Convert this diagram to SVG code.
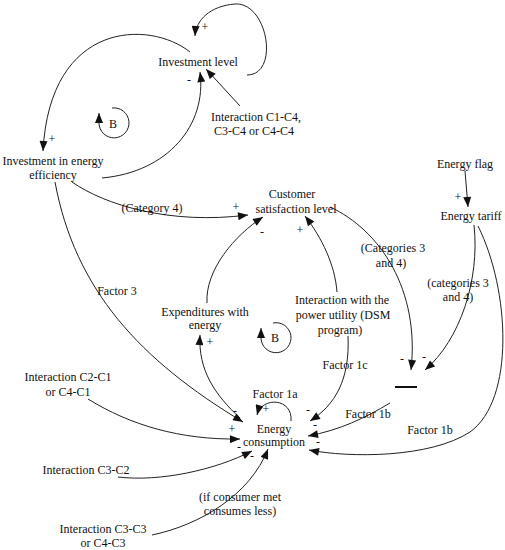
<svg xmlns="http://www.w3.org/2000/svg" width="505" height="550" viewBox="0 0 505 550" font-family="'Liberation Serif', 'DejaVu Serif', 'Times New Roman', serif">
<style>
text{font-family:'Liberation Serif','DejaVu Serif','Times New Roman',serif;font-size:12px;fill:#111;text-anchor:middle}
.c{fill:none;stroke:#222;stroke-width:1;marker-end:url(#ah)}
</style>
<defs>
<marker id="ah" viewBox="0 0 10 8" refX="10" refY="4" markerWidth="11" markerHeight="8" orient="auto" markerUnits="userSpaceOnUse"><path d="M0,0 L10,4 L0,8 z" fill="#111"/></marker>
</defs>
<rect width="505" height="550" fill="#fff"/>
<g id="connectors">
<path class="c" d="M247,75 C280,75 268,2 235,4 C210,6 196,20 195,36"/>
<path class="c" d="M190,52 C150,20 50,20 43,151"/>
<path class="c" d="M102,178 C168,172 207,125 200,72"/>
<path class="c" d="M240,106 L206,69"/>
<path class="c" d="M72,182 C105,205 170,225 248,215"/>
<path class="c" d="M207,303 C205,270 235,235 263,217"/>
<path class="c" d="M337,292 C335,265 322,238 305,216"/>
<path class="c" d="M330,207 C380,230 420,290 411,370"/>
<path class="c" d="M465,171 L468,207"/>
<path class="c" d="M474,225 C480,280 460,340 425,370"/>
<path class="c" d="M478,226 C510,290 515,400 470,432 C430,458 350,458 309,450"/>
<path class="c" d="M390,403 C365,418 340,430 308,436"/>
<path class="c" d="M348,336 C350,380 335,405 310,421"/>
<path class="c" d="M240,418 C215,395 198,370 200,335"/>
<path class="c" d="M55,182 C75,290 140,360 243,422"/>
<path class="c" d="M291,421 C293,398 262,396 257,415"/>
<path class="c" d="M88,399 C130,425 180,440 240,439"/>
<path class="c" d="M118,477 C160,482 215,470 252,451"/>
<path class="c" d="M152,535 C200,525 250,495 268,449"/>
<g id="polarities">
<text x="205" y="31">+</text>
<text x="189" y="84">-</text>
<text x="52" y="143">+</text>
<text x="236" y="211">+</text>
<text x="262" y="236">-</text>
<text x="300" y="234">+</text>
<text x="458" y="201">+</text>
<text x="402" y="363">-</text>
<text x="424" y="361">-</text>
<text x="210" y="346">+</text>
<text x="266" y="413">+</text>
<text x="235" y="415">-</text>
<text x="232" y="433">+</text>
<text x="239" y="451">-</text>
<text x="252" y="460">-</text>
<text x="308" y="414">-</text>
<text x="315" y="429">-</text>
<text x="318" y="446">-</text>
</g>
<g id="edge-labels">
<text x="152" y="212">(Category 4)</text>
<text x="393" y="252">(Categories 3</text>
<text x="391" y="267">and 4)</text>
<text x="458" y="287">(categories 3</text>
<text x="458" y="301">and 4)</text>
<text x="117" y="295">Factor 3</text>
<text x="345" y="369">Factor 1c</text>
<text x="275" y="398">Factor 1a</text>
<text x="368" y="418">Factor 1b</text>
<text x="430" y="434">Factor 1b</text>
<text x="240" y="501">(if consumer met</text>
<text x="240" y="515">consumes less)</text>
</g>
</g>
<g id="loop-b1"><path class="c" d="M112,108 A15,15 0 1 1 99,123 L99,113"/><text x="113" y="128">B</text></g>
<g id="loop-b2"><path class="c" d="M273,323 A15,15 0 1 1 261,338 L261,328"/><text x="275" y="342">B</text></g>
<g id="investment-level"><text x="198" y="66">Investment level</text></g>
<g id="interaction-c1c4"><text x="256" y="121">Interaction C1-C4,</text><text x="254" y="135">C3-C4 or C4-C4</text></g>
<g id="investment-efficiency"><text x="53" y="165">Investment in energy</text><text x="53" y="179">efficiency</text></g>
<g id="customer-satisfaction"><text x="292" y="198">Customer</text><text x="296" y="213">satisfaction level</text></g>
<g id="energy-flag"><text x="465" y="168">Energy flag</text></g>
<g id="energy-tariff"><text x="471" y="220">Energy tariff</text></g>
<g id="expenditures"><text x="205" y="316">Expenditures with</text><text x="205" y="329">energy</text></g>
<g id="interaction-dsm"><text x="342" y="304">Interaction with the</text><text x="343" y="319">power utility (DSM</text><text x="340" y="334">program)</text></g>
<g id="bar"><line x1="395" y1="387" x2="417" y2="387" stroke="#111" stroke-width="2"/></g>
<g id="energy-consumption"><text x="274" y="433">Energy</text><text x="274" y="446">consumption</text></g>
<g id="interaction-c2c1"><text x="68" y="381">Interaction C2-C1</text><text x="68" y="396">or C4-C1</text></g>
<g id="interaction-c3c2"><text x="86" y="474">Interaction C3-C2</text></g>
<g id="interaction-c3c3"><text x="103" y="533">Interaction C3-C3</text><text x="103" y="547">or C4-C3</text></g>
</svg>
